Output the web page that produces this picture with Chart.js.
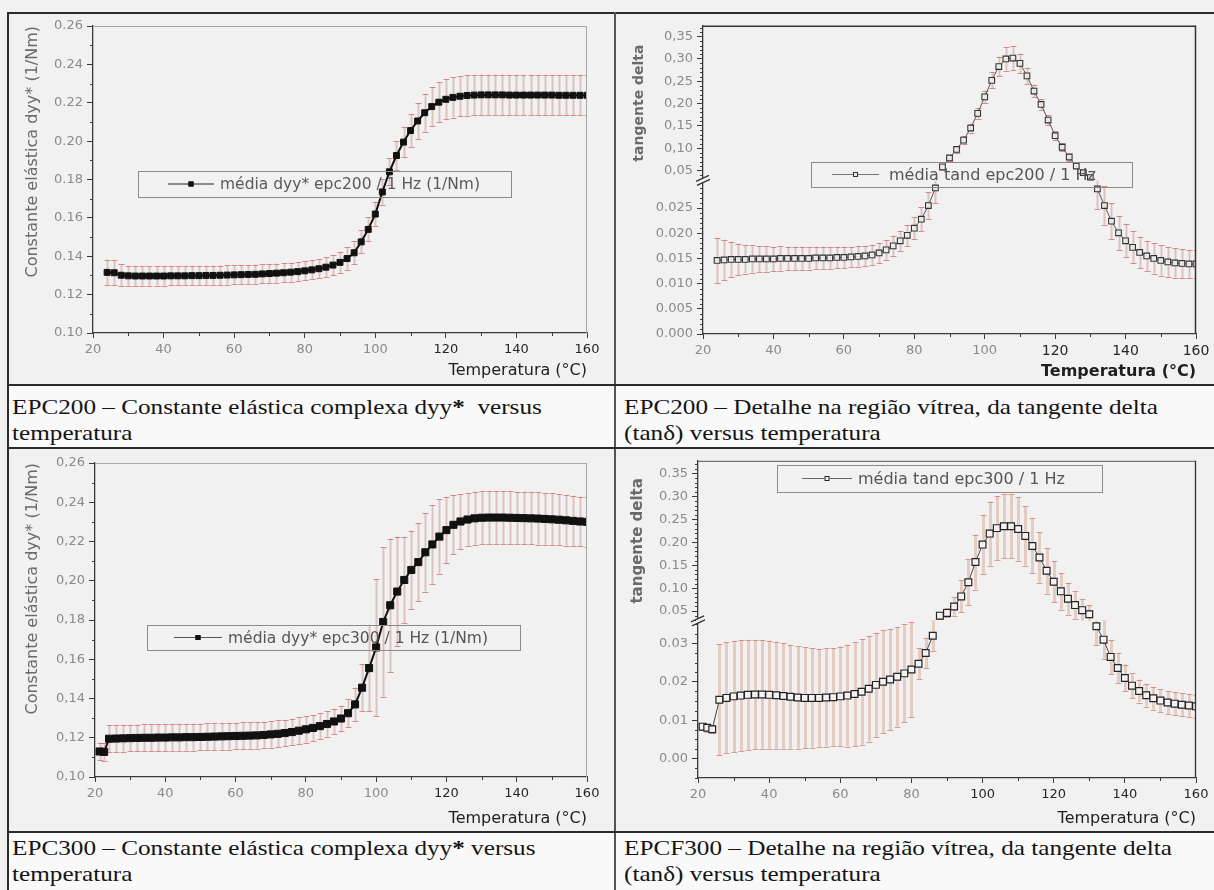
<!DOCTYPE html>
<html>
<head>
<meta charset="utf-8">
<script src="https://cdn.jsdelivr.net/npm/chart.js@4.4.1/dist/chart.umd.min.js"></script>
<style>
  html, body { margin: 0; padding: 0; background: #f2f2f2; }
  #sheet { position: relative; width: 1214px; height: 890px; overflow: hidden; background: #f1f1f1; }
  #sheet canvas { position: absolute; }
  .rule { position: absolute; background: #2b2b2b; }
  .band { position: absolute; background: #f9f9f9; }
  .cap {
    position: absolute; font-family: "Liberation Serif", "Times New Roman", serif;
    font-size: 21px; line-height: 26px; color: #141414; white-space: pre;
    transform-origin: 0 0; transform: scaleX(1.2);
  }
  .cap b { font-weight: bold; }
</style>
</head>
<body>
<div id="sheet">
  <div class="band" style="left:9px;top:385px;width:1205px;height:62px"></div>
  <div class="band" style="left:9px;top:832px;width:1205px;height:58px"></div>

  <canvas id="cDyy200" width="595" height="370" style="left:10px;top:14px"></canvas>
  <canvas id="cTan200" width="597" height="370" style="left:617px;top:14px"></canvas>
  <canvas id="cDyy300" width="595" height="382" style="left:10px;top:449px"></canvas>
  <canvas id="cTan300" width="597" height="382" style="left:617px;top:449px"></canvas>

  <div class="rule" style="left:7px;top:12px;width:1207px;height:2px"></div>
  <div class="rule" style="left:7px;top:12px;width:2px;height:878px"></div>
  <div class="rule" style="left:614px;top:12px;width:1.5px;height:878px;background:#555"></div>
  <div class="rule" style="left:8px;top:384px;width:1206px;height:1.5px"></div>
  <div class="rule" style="left:8px;top:447px;width:1206px;height:2px"></div>
  <div class="rule" style="left:8px;top:831px;width:1206px;height:1.5px"></div>

  <div class="cap" style="left:12px;top:394px">EPC200 – Constante elástica complexa dyy<b>*</b>  versus
temperatura</div>
  <div class="cap" style="left:624px;top:394px">EPC200 – Detalhe na região vítrea, da tangente delta
(tanδ) versus temperatura</div>
  <div class="cap" style="left:12px;top:835px">EPC300 – Constante elástica complexa dyy<b>*</b> versus
temperatura</div>
  <div class="cap" style="left:624px;top:835px">EPCF300 – Detalhe na região vítrea, da tangente delta
(tanδ) versus temperatura</div>
</div>

<script>
// Temperature grids (°C)
const tempsA = [24,26,28,30,32,34,36,38,40,42,44,46,48,50,52,54,56,58,60,62,64,66,68,70,72,74,76,78,80,82,84,86,88,90,92,94,96,98,100,102,104,106,108,110,112,114,116,118,120,122,124,126,128,130,132,134,136,138,140,142,144,146,148,150,152,154,156,158,160];
const tempsB = [21.3,22.6,24,26,28,30,32,34,36,38,40,42,44,46,48,50,52,54,56,58,60,62,64,66,68,70,72,74,76,78,80,82,84,86,88,90,92,94,96,98,100,102,104,106,108,110,112,114,116,118,120,122,124,126,128,130,132,134,136,138,140,142,144,146,148,150,152,154,156,158,160];

// EPC200 – complex elastic constant dyy* (1/Nm), mean and deviation
const dyyEpc200 = [0.1316,0.1314,0.1301,0.1298,0.1297,0.1297,0.1297,0.1297,0.1297,0.1298,0.1298,0.1298,0.1299,0.1299,0.1300,0.1300,0.1301,0.1302,0.1303,0.1304,0.1305,0.1306,0.1308,0.1310,0.1312,0.1314,0.1317,0.1320,0.1324,0.1329,0.1335,0.1343,0.1354,0.1368,0.1388,0.1418,0.1475,0.1540,0.1620,0.1735,0.1840,0.1925,0.1995,0.2055,0.2105,0.2148,0.2180,0.2203,0.2218,0.2228,0.2234,0.2238,0.2240,0.2241,0.2241,0.2241,0.2241,0.2240,0.2240,0.2240,0.2240,0.2240,0.2240,0.2240,0.2239,0.2239,0.2239,0.2239,0.2239];
const dyyEpc200Err = [0.0065,0.0065,0.0058,0.0052,0.0050,0.0050,0.0050,0.0050,0.0050,0.0050,0.0050,0.0050,0.0050,0.0050,0.0050,0.0050,0.0050,0.0050,0.0050,0.0050,0.0050,0.0050,0.0050,0.0050,0.0050,0.0050,0.0050,0.0050,0.0050,0.0050,0.0050,0.0052,0.0054,0.0056,0.0058,0.0060,0.0060,0.0062,0.0064,0.0066,0.0070,0.0075,0.0080,0.0086,0.0092,0.0098,0.0102,0.0104,0.0105,0.0105,0.0105,0.0105,0.0105,0.0105,0.0105,0.0105,0.0105,0.0105,0.0105,0.0105,0.0105,0.0105,0.0105,0.0105,0.0105,0.0105,0.0105,0.0105,0.0105];

// EPC200 – loss tangent, mean and deviation
const tandEpc200 = [0.0146,0.0147,0.0148,0.0148,0.0148,0.0149,0.0149,0.0149,0.0149,0.0150,0.0150,0.0150,0.0150,0.0150,0.0151,0.0151,0.0151,0.0152,0.0152,0.0153,0.0154,0.0155,0.0157,0.0161,0.0167,0.0175,0.0185,0.0196,0.0210,0.0228,0.0255,0.0290,0.058,0.078,0.097,0.118,0.145,0.178,0.215,0.252,0.283,0.300,0.302,0.290,0.262,0.228,0.198,0.163,0.128,0.102,0.080,0.060,0.045,0.034,0.0288,0.0255,0.0224,0.0201,0.0185,0.0172,0.0162,0.0155,0.0150,0.0146,0.0143,0.0141,0.0140,0.0139,0.0139];
const tandEpc200Err = [0.0045,0.0040,0.0035,0.0031,0.0028,0.0027,0.0026,0.0025,0.0024,0.0024,0.0023,0.0023,0.0023,0.0022,0.0022,0.0022,0.0021,0.0021,0.0021,0.0020,0.0020,0.0020,0.0020,0.0020,0.0020,0.0020,0.0020,0.0021,0.0022,0.0024,0.0026,0.0030,0.006,0.007,0.008,0.009,0.010,0.012,0.014,0.018,0.022,0.026,0.026,0.022,0.018,0.014,0.012,0.011,0.010,0.009,0.008,0.007,0.006,0.005,0.0040,0.0038,0.0036,0.0034,0.0033,0.0032,0.0031,0.0030,0.0030,0.0030,0.0030,0.0029,0.0029,0.0028,0.0028];

// EPC300 – complex elastic constant dyy* (1/Nm), mean and deviation
const dyyEpc300 = [0.1130,0.1128,0.1195,0.1196,0.1197,0.1198,0.1199,0.1200,0.1200,0.1201,0.1201,0.1202,0.1202,0.1203,0.1203,0.1204,0.1205,0.1206,0.1207,0.1208,0.1209,0.1210,0.1211,0.1212,0.1214,0.1217,0.1220,0.1224,0.1229,0.1236,0.1243,0.1250,0.1259,0.1270,0.1283,0.1298,0.1325,0.1370,0.1455,0.1555,0.1660,0.1790,0.1875,0.1945,0.2004,0.2055,0.2095,0.2145,0.2185,0.2225,0.2258,0.2285,0.2302,0.2312,0.2318,0.2321,0.2322,0.2322,0.2322,0.2321,0.2320,0.2319,0.2318,0.2317,0.2315,0.2313,0.2311,0.2308,0.2305,0.2302,0.2300];
const dyyEpc300Err = [0.0045,0.0045,0.0070,0.0068,0.0068,0.0068,0.0068,0.0068,0.0068,0.0068,0.0068,0.0068,0.0068,0.0068,0.0068,0.0068,0.0068,0.0068,0.0068,0.0068,0.0068,0.0068,0.0068,0.0068,0.0068,0.0068,0.0068,0.0068,0.0068,0.0068,0.0068,0.0066,0.0065,0.0065,0.0065,0.0066,0.0070,0.0085,0.0120,0.0220,0.0350,0.0380,0.0340,0.0280,0.0220,0.0200,0.0200,0.0200,0.0200,0.0190,0.0170,0.0150,0.0140,0.0135,0.0135,0.0135,0.0135,0.0135,0.0135,0.0135,0.0134,0.0134,0.0133,0.0133,0.0132,0.0132,0.0130,0.0130,0.0128,0.0127,0.0126];

// EPC300 – loss tangent, mean and deviation
const tandEpc300 = [0.0083,0.0080,0.0076,0.0153,0.0158,0.0162,0.0164,0.0166,0.0167,0.0167,0.0166,0.0165,0.0163,0.0161,0.0159,0.0158,0.0158,0.0158,0.0159,0.0160,0.0162,0.0164,0.0168,0.0174,0.0182,0.0192,0.0200,0.0206,0.0213,0.0222,0.0232,0.0247,0.0275,0.0320,0.040,0.046,0.060,0.082,0.113,0.157,0.195,0.219,0.231,0.235,0.235,0.229,0.214,0.192,0.167,0.138,0.114,0.093,0.077,0.063,0.052,0.043,0.0345,0.0310,0.0265,0.0236,0.0210,0.0190,0.0176,0.0165,0.0157,0.0151,0.0146,0.0143,0.0140,0.0138,0.0136];
const tandEpc300Err = [0.0010,0.0010,0.0010,0.0145,0.0145,0.0145,0.0145,0.0144,0.0143,0.0142,0.0141,0.0140,0.0138,0.0136,0.0134,0.0132,0.0130,0.0128,0.0128,0.0128,0.0130,0.0133,0.0136,0.0138,0.0138,0.0136,0.0134,0.0132,0.0130,0.0128,0.0125,0.0040,0.0040,0.0040,0.008,0.010,0.020,0.035,0.050,0.060,0.065,0.070,0.070,0.070,0.070,0.070,0.065,0.060,0.055,0.050,0.045,0.040,0.035,0.030,0.025,0.020,0.0050,0.0050,0.0045,0.0040,0.0035,0.0032,0.0030,0.0030,0.0030,0.0030,0.0030,0.0030,0.0030,0.0030,0.0030];

// Axis tick values
const tempTicks = [20,40,60,80,100,120,140,160];
const dyyTicks = [0.10,0.12,0.14,0.16,0.18,0.20,0.22,0.24,0.26];
const tandHighTicks = [0.05,0.10,0.15,0.20,0.25,0.30,0.35];
const tand200LowTicks = [0,0.005,0.010,0.015,0.020,0.025];
const tand300LowTicks = [0,0.01,0.02,0.03];

// Legend / axis texts
const seriesNames = {
  dyy200: 'média dyy* epc200 / 1 Hz (1/Nm)',
  tan200: 'média tand epc200 / 1 Hz',
  dyy300: 'média dyy* epc300 / 1 Hz (1/Nm)',
  tan300: 'média tand epc300 / 1 Hz'
};
const xTitle = 'Temperatura (°C)';
const dyyTitle = 'Constante elástica dyy* (1/Nm)';
const tanTitle = 'tangente delta';

const SANS = '"DejaVu Sans", Verdana, sans-serif';
const AXIS = '#3a3a3a';
const TICK_GRAY = '#8a8a8a';
Chart.defaults.font.family = SANS;

const fmt = (v, d, sep) => v.toFixed(d).replace('.', sep);
const points = (xs, ys) => xs.map((x, i) => ({ x, y: ys[i] }));

// split a series at an axis break value (lower / upper segment)
function splitAtBreak(xs, ys, brk) {
  return {
    low: xs.map((x, i) => ({ x, y: ys[i] < brk ? ys[i] : null })),
    high: xs.map((x, i) => ({ x, y: ys[i] >= brk ? ys[i] : null }))
  };
}

// vertical error bars with caps, clipped to each y-segment
const errorBars = {
  id: 'errorBars',
  beforeDatasetsDraw(chart, args, o) {
    const { ctx, chartArea } = chart;
    const xs = chart.scales.x;
    chart.data.datasets.forEach((ds, i) => {
      if (!ds.errors) return;
      const ys = chart.scales[ds.yAxisID];
      ctx.save();
      ctx.beginPath();
      ctx.rect(chartArea.left, ys.top, chartArea.right - chartArea.left, ys.bottom - ys.top);
      ctx.clip();
      ds.data.forEach((p, j) => {
        if (p.y == null) return;
        const e = ds.errors[j];
        const px = Math.round(xs.getPixelForValue(p.x)) + 0.5;
        const yTop = ys.getPixelForValue(p.y + e);
        const yBot = ys.getPixelForValue(p.y - e);
        ctx.strokeStyle = o.barColor; ctx.lineWidth = o.barWidth;
        ctx.beginPath(); ctx.moveTo(px, yTop); ctx.lineTo(px, yBot); ctx.stroke();
        ctx.strokeStyle = o.capColor; ctx.lineWidth = 1;
        ctx.beginPath();
        ctx.moveTo(px - o.cap, Math.round(yTop) + 0.5); ctx.lineTo(px + o.cap, Math.round(yTop) + 0.5);
        ctx.moveTo(px - o.cap, Math.round(yBot) + 0.5); ctx.lineTo(px + o.cap, Math.round(yBot) + 0.5);
        ctx.stroke();
      });
      ctx.restore();
    });
  }
};

// framed legend drawn inside the plot area
const boxLegend = {
  id: 'boxLegend',
  afterDatasetsDraw(chart, args, o) {
    const { ctx } = chart;
    const ds = chart.data.datasets[0];
    const [x0, y0, x1, y1] = o.box;
    const cy = (y0 + y1) / 2;
    ctx.save();
    ctx.strokeStyle = o.frame; ctx.lineWidth = 1;
    ctx.strokeRect(x0 + 0.5, y0 + 0.5, x1 - x0, y1 - y0);
    ctx.strokeStyle = o.lineColor; ctx.lineWidth = 1;
    ctx.beginPath(); ctx.moveTo(x0 + o.line[0], cy); ctx.lineTo(x0 + o.line[1], cy); ctx.stroke();
    const m = o.marker;
    const mx = x0 + (o.line[0] + o.line[1]) / 2;
    ctx.fillStyle = ds.pointBackgroundColor; ctx.fillRect(mx - m / 2, cy - m / 2, m, m);
    ctx.strokeStyle = ds.pointBorderColor; ctx.strokeRect(mx - m / 2 + 0.5, cy - m / 2 + 0.5, m - 1, m - 1);
    ctx.fillStyle = o.color; ctx.font = o.font; ctx.textBaseline = 'middle';
    ctx.fillText(ds.label, x0 + o.textAt, cy + 1);
    ctx.restore();
  }
};

// top/right frame lines of the plot box
const plotFrame = {
  id: 'plotFrame',
  afterDraw(chart, args, o) {
    const { ctx, chartArea: a } = chart;
    ctx.save();
    ctx.lineWidth = o.width;
    ctx.strokeStyle = o.top;
    ctx.beginPath(); ctx.moveTo(a.left, a.top + 0.5); ctx.lineTo(a.right, a.top + 0.5); ctx.stroke();
    ctx.strokeStyle = o.right;
    ctx.beginPath(); ctx.moveTo(a.right - 0.5, a.top); ctx.lineTo(a.right - 0.5, a.bottom); ctx.stroke();
    ctx.restore();
  }
};

// minor tick marks between the labelled ticks
const minorTicks = {
  id: 'minorTicks',
  afterDraw(chart, args, o) {
    const { ctx } = chart;
    ctx.save();
    ctx.strokeStyle = AXIS; ctx.lineWidth = 1;
    for (const [id, step] of Object.entries(o.steps)) {
      const s = chart.scales[id];
      const k0 = Math.ceil(s.min / step - 1e-6), k1 = Math.floor(s.max / step + 1e-6);
      ctx.beginPath();
      for (let k = k0; k <= k1; k++) {
        const v = k * step;
        if (s.ticks.some(t => Math.abs(t.value - v) < step * 1e-3)) continue;
        const p = Math.round(s.getPixelForValue(v)) + 0.5;
        if (s.isHorizontal()) { ctx.moveTo(p, s.top); ctx.lineTo(p, s.top + o.len); }
        else { ctx.moveTo(s.right, p); ctx.lineTo(s.right - o.len, p); }
      }
      ctx.stroke();
    }
    ctx.restore();
  }
};

// "//" marks where the y axis is broken
const axisBreak = {
  id: 'axisBreak',
  afterDraw(chart, args, o) {
    if (!o.scale) return;
    const { ctx } = chart;
    const s = chart.scales[o.scale];
    const x = chart.chartArea.left, y = s.bottom;
    ctx.save();
    ctx.fillStyle = o.bg; ctx.fillRect(x - 2, y - 2, 4, 4);
    ctx.strokeStyle = '#333'; ctx.lineWidth = 1.2;
    ctx.beginPath();
    ctx.moveTo(x - 7, y + 1); ctx.lineTo(x + 6, y - 5);
    ctx.moveTo(x - 6, y + 5); ctx.lineTo(x + 7, y - 1);
    ctx.stroke();
    ctx.restore();
  }
};

function xAxis(height, titleFont, titlePad, darkFrom, bigDark) {
  return {
    type: 'linear', min: 20, max: 160,
    afterBuildTicks: s => { s.ticks = tempTicks.map(v => ({ value: v })); },
    afterFit: s => { s.height = height; },
    border: { display: true, color: AXIS, width: 1.3 },
    grid: { display: true, drawOnChartArea: false, drawTicks: true, tickLength: 5, tickColor: AXIS },
    ticks: {
      autoSkip: false, maxRotation: 0, padding: 4,
      callback: v => String(v),
      color: c => (c.tick && c.tick.value >= darkFrom) ? '#262626' : TICK_GRAY,
      font: c => ({ family: SANS, size: (bigDark && c.tick && c.tick.value >= darkFrom) ? 14 : 13 })
    },
    title: { display: true, text: xTitle, align: 'end', color: '#1e1e1e', font: titleFont, padding: { top: 0, bottom: titlePad } }
  };
}

function yAxis(opts) {
  const sc = {
    type: 'linear', position: 'left', min: opts.min, max: opts.max,
    afterBuildTicks: s => { s.ticks = opts.ticks.map(v => ({ value: v })); },
    afterFit: s => { s.width = opts.width; },
    border: { display: true, color: AXIS, width: 1.3 },
    grid: { display: true, drawOnChartArea: false, drawTicks: true, tickLength: 6, tickColor: AXIS },
    ticks: { autoSkip: false, padding: 4, color: TICK_GRAY, font: { family: SANS, size: 13 }, callback: opts.label },
    title: opts.title ? { display: true, text: opts.title, align: opts.titleAlign, color: opts.titleColor, font: opts.titleFont, padding: { top: opts.titlePad, bottom: 0 } } : { display: false }
  };
  if (opts.stack) { sc.stack = opts.stack; sc.stackWeight = opts.weight; }
  return sc;
}

const commonOpts = (padding) => ({
  responsive: false, animation: false, devicePixelRatio: 1,
  layout: { padding },
  plugins: { legend: { display: false }, tooltip: { enabled: false } }
});

const barStyle = { barColor: 'rgba(190,128,122,0.42)', capColor: 'rgba(205,80,72,0.62)', barWidth: 2, cap: 3 };
const wideBarStyle = { barColor: 'rgba(212,150,128,0.40)', capColor: 'rgba(200,90,75,0.55)', barWidth: 3, cap: 3 };

// ---------- EPC200 dyy* ----------
new Chart(document.getElementById('cDyy200'), {
  type: 'line',
  data: { datasets: [{
    label: seriesNames.dyy200, data: points(tempsA, dyyEpc200), errors: dyyEpc200Err, yAxisID: 'y',
    borderColor: '#111', borderWidth: 2, pointStyle: 'rect', pointRadius: 4.2,
    pointBackgroundColor: '#111', pointBorderColor: '#111', pointBorderWidth: 1
  }] },
  options: Object.assign(commonOpts({ left: 0, right: 18, top: 12, bottom: 0 }), {
    scales: {
      x: xAxis(51, { family: SANS, size: 16 }, 4, 120, false),
      y: yAxis({ min: 0.10, max: 0.26, ticks: dyyTicks, width: 83, label: v => fmt(v, 2, '.'),
        title: dyyTitle, titleAlign: 'end', titleColor: '#6a6a6a', titleFont: { family: SANS, size: 16 }, titlePad: 13 })
    },
    plugins: {
      legend: { display: false }, tooltip: { enabled: false },
      errorBars: barStyle,
      boxLegend: { box: [128, 157, 501, 183], line: [30, 76], marker: 5, textAt: 82, frame: '#8a8a8a', lineColor: '#222', color: '#5a5a5a', font: '15.5px ' + SANS },
      plotFrame: { top: '#a5a5a5', right: '#a5a5a5', width: 1 },
      minorTicks: { steps: { x: 10, y: 0.01 }, len: 3 },
      axisBreak: {}
    }
  }),
  plugins: [errorBars, boxLegend, plotFrame, minorTicks, axisBreak]
});

// ---------- EPC200 tan delta (broken axis) ----------
const tan200 = splitAtBreak(tempsA, tandEpc200, 0.03);
const tanMarker200 = { borderColor: '#555', borderWidth: 1, pointStyle: 'rect', pointRadius: 4, pointBackgroundColor: 'rgba(238,238,238,0.9)', pointBorderColor: '#333', pointBorderWidth: 1.1, spanGaps: false };
new Chart(document.getElementById('cTan200'), {
  type: 'line',
  data: { datasets: [
    Object.assign({ label: seriesNames.tan200, data: tan200.low, errors: tandEpc200Err, yAxisID: 'yLow' }, tanMarker200),
    Object.assign({ label: seriesNames.tan200, data: tan200.high, errors: tandEpc200Err, yAxisID: 'yHigh' }, tanMarker200)
  ] },
  options: Object.assign(commonOpts({ left: 0, right: 18, top: 7, bottom: 0 }), {
    scales: {
      x: xAxis(50, { family: SANS, size: 16, weight: 'bold' }, 3, 120, true),
      yLow: yAxis({ min: 0, max: 0.0305, ticks: tand200LowTicks, width: 86, label: v => fmt(v, 3, '.'), stack: 'tan', weight: 156 }),
      yHigh: yAxis({ min: 0.0277, max: 0.3743, ticks: tandHighTicks, width: 86, label: v => fmt(v, 2, ','), stack: 'tan', weight: 157,
        title: tanTitle, titleAlign: 'center', titleColor: '#6a6a6a', titleFont: { family: SANS, size: 14, weight: 'bold' }, titlePad: 14 })
    },
    plugins: {
      legend: { display: false }, tooltip: { enabled: false },
      errorBars: barStyle,
      boxLegend: { box: [194, 148, 515, 173], line: [21, 68], marker: 5, textAt: 78, frame: '#8a8a8a', lineColor: '#777', color: '#555', font: '16px ' + SANS },
      plotFrame: { top: '#333', right: '#333', width: 1.5 },
      minorTicks: { steps: { x: 10, yLow: 0.001, yHigh: 0.01 }, len: 3 },
      axisBreak: { scale: 'yHigh', bg: '#f1f1f1' }
    }
  }),
  plugins: [errorBars, boxLegend, plotFrame, minorTicks, axisBreak]
});

// ---------- EPC300 dyy* ----------
new Chart(document.getElementById('cDyy300'), {
  type: 'line',
  data: { datasets: [{
    label: seriesNames.dyy300, data: points(tempsB, dyyEpc300), errors: dyyEpc300Err, yAxisID: 'y',
    borderColor: '#111', borderWidth: 2, pointStyle: 'rect', pointRadius: 5,
    pointBackgroundColor: '#111', pointBorderColor: '#111', pointBorderWidth: 1
  }] },
  options: Object.assign(commonOpts({ left: 0, right: 18, top: 14, bottom: 0 }), {
    scales: {
      x: xAxis(54, { family: SANS, size: 16 }, 3, 120, false),
      y: yAxis({ min: 0.10, max: 0.26, ticks: dyyTicks, width: 85, label: v => fmt(v, 2, ','),
        title: dyyTitle, titleAlign: 'end', titleColor: '#6a6a6a', titleFont: { family: SANS, size: 16 }, titlePad: 13 })
    },
    plugins: {
      legend: { display: false }, tooltip: { enabled: false },
      errorBars: barStyle,
      boxLegend: { box: [137, 176, 510, 201], line: [27, 75], marker: 5, textAt: 81, frame: '#8a8a8a', lineColor: '#555', color: '#555', font: '15.5px ' + SANS },
      plotFrame: { top: '#aaa', right: '#a5a5a5', width: 1 },
      minorTicks: { steps: { x: 10, y: 0.01 }, len: 3 },
      axisBreak: {}
    }
  }),
  plugins: [errorBars, boxLegend, plotFrame, minorTicks, axisBreak]
});

// ---------- EPC300 tan delta (broken axis) ----------
const tan300 = splitAtBreak(tempsB, tandEpc300, 0.035);
const tanMarker300 = { borderColor: '#444', borderWidth: 1, pointStyle: 'rect', pointRadius: 4.8, pointBackgroundColor: 'rgba(246,246,246,0.95)', pointBorderColor: '#222', pointBorderWidth: 1.2, spanGaps: false };
new Chart(document.getElementById('cTan300'), {
  type: 'line',
  data: { datasets: [
    Object.assign({ label: seriesNames.tan300, data: tan300.low, errors: tandEpc300Err, yAxisID: 'yLow' }, tanMarker300),
    Object.assign({ label: seriesNames.tan300, data: tan300.high, errors: tandEpc300Err, yAxisID: 'yHigh' }, tanMarker300)
  ] },
  options: Object.assign(commonOpts({ left: 0, right: 18, top: 6, bottom: 0 }), {
    scales: {
      x: xAxis(53, { family: SANS, size: 16 }, 3, 100, false),
      yLow: yAxis({ min: -0.0051, max: 0.0359, ticks: tand300LowTicks, width: 81, label: v => fmt(v, 2, '.'), stack: 'tan', weight: 160 }),
      yHigh: yAxis({ min: 0.0286, max: 0.3779, ticks: tandHighTicks, width: 81, label: v => fmt(v, 2, '.'), stack: 'tan', weight: 163,
        title: tanTitle, titleAlign: 'center', titleColor: '#6a6a6a', titleFont: { family: SANS, size: 15, weight: 'bold' }, titlePad: 12 })
    },
    plugins: {
      legend: { display: false }, tooltip: { enabled: false },
      errorBars: wideBarStyle,
      boxLegend: { box: [160, 16, 485, 43], line: [25, 75], marker: 5, textAt: 81, frame: '#8a8a8a', lineColor: '#666', color: '#555', font: '16px ' + SANS },
      plotFrame: { top: '#777', right: '#333', width: 1.3 },
      minorTicks: { steps: { x: 10, yLow: 0.0025, yHigh: 0.01 }, len: 3 },
      axisBreak: { scale: 'yHigh', bg: '#f1f1f1' }
    }
  }),
  plugins: [errorBars, boxLegend, plotFrame, minorTicks, axisBreak]
});
</script>
</body>
</html>
